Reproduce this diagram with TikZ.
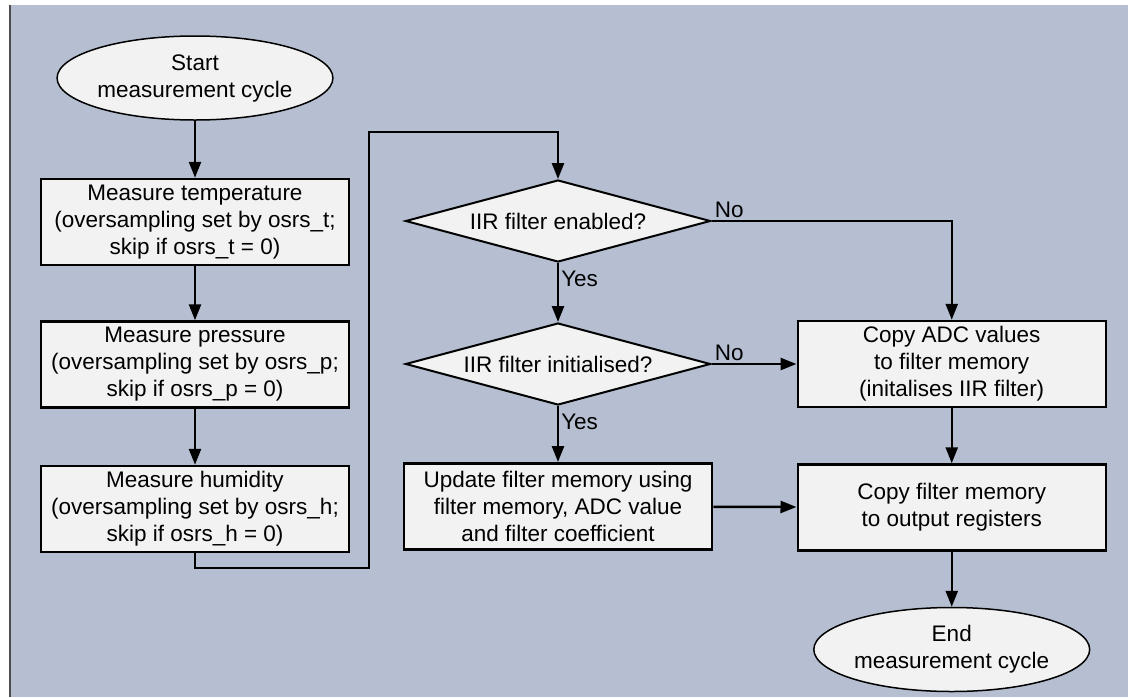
\documentclass[tikz,border=0pt]{standalone}
\usepackage{fontspec}
\setmainfont{Liberation Sans}
\usepackage{xcolor}
\usetikzlibrary{shapes.geometric, arrows.meta, positioning, calc}

\definecolor{panelbg}{RGB}{181,191,209}
\definecolor{boxfill}{RGB}{242,242,242}

\begin{document}
\begin{tikzpicture}[x=1pt, y=-1pt,
  every node/.style={font=\fontsize{22.5}{27}\selectfont},
  term/.style={ellipse, draw, line width=1.5pt, fill=boxfill, align=center,
    minimum width=253pt, minimum height=84pt, inner sep=0pt},
  block/.style={rectangle, draw, line width=2.5pt, fill=boxfill, align=center,
    minimum width=308pt, minimum height=86pt, inner sep=2pt},
  decision/.style={diamond, draw, line width=2pt, fill=boxfill, aspect=3.7,
    minimum width=305pt, minimum height=82pt, inner sep=0pt},
  arr/.style={-{Triangle[length=16pt, width=12pt]}, line width=2.5pt},
  lbl/.style={inner sep=2pt},
  yeslbl/.style={inner sep=2pt, yshift=-5pt}
]
\useasboundingbox (0,0) rectangle (1128,697);
\fill[panelbg] (10,5) rectangle (1128,697);
\draw[line width=1.5pt, black!70] (10,5) -- (10,697);

% Nodes
\node[term] (start) at (195,78) {Start\\measurement cycle};
\node[block, below=57pt of start] (temp) {Measure temperature\\(oversampling set by osrs\_t;\\skip if osrs\_t = 0)};
\node[block, below=54pt of temp] (pres) {Measure pressure\\(oversampling set by osrs\_p;\\skip if osrs\_p = 0)};
\node[block, below=56pt of pres] (humi) {Measure humidity\\(oversampling set by osrs\_h;\\skip if osrs\_h = 0)};

\node[decision] (enab) at (558,221) {IIR filter enabled?};
\node[decision, below=59pt of enab] (init) {IIR filter initialised?};
\node[block, below=56pt of init] (upd) {Update filter memory using\\filter memory, ADC value\\and filter coefficient};

\node[block, right=85pt of init] (copyadc) {Copy ADC values\\to filter memory\\(initalises IIR filter)};
\node[block, below=55pt of copyadc] (copymem) {Copy filter memory\\to output registers};
\node[term, below=55pt of copymem] (stop) {End\\measurement cycle};

\coordinate (loopbot) at (369,568);
\coordinate (looptop) at (369,132);

% Arrows
\draw[arr] (start) -- (temp);
\draw[arr] (temp) -- (pres);
\draw[arr] (pres) -- (humi);
\draw[arr] (humi.south) |- (loopbot) -- (looptop) -| (enab.north);
\draw[arr] (enab) -- node[pos=0, below right, yeslbl] {Yes} (init);
\draw[arr] (init) -- node[pos=0, below right, yeslbl] {Yes} (upd);
\draw[arr] (enab.east) -| node[pos=0, above right, lbl] {No} (copyadc.north);
\draw[arr] (init.east) -- node[pos=0, above right, lbl] {No} (copyadc.west);
\draw[arr] (upd) -- (copymem);
\draw[arr] (copyadc) -- (copymem);
\draw[arr] (copymem) -- (stop);

\end{tikzpicture}
\end{document}
